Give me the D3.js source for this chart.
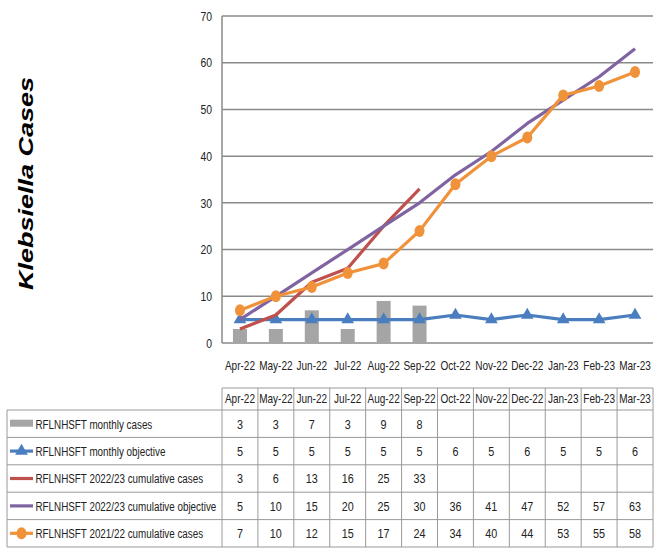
<!DOCTYPE html>
<html><head><meta charset="utf-8">
<script src="https://cdn.jsdelivr.net/npm/d3@7"></script>
<style>body{margin:0;background:#fff}svg{display:block}</style>
</head><body>
<svg id="c" width="662" height="551"></svg>
<script>
const months = ["Apr-22","May-22","Jun-22","Jul-22","Aug-22","Sep-22","Oct-22","Nov-22","Dec-22","Jan-23","Feb-23","Mar-23"];
const monthlyCases = [3,3,7,3,9,8,null,null,null,null,null,null];
const monthlyObjective = [5,5,5,5,5,5,6,5,6,5,5,6];
const cumCases2223 = [3,6,13,16,25,33,null,null,null,null,null,null];
const cumObjective2223 = [5,10,15,20,25,30,36,41,47,52,57,63];
const cumCases2122 = [7,10,12,15,17,24,34,40,44,53,55,58];
const yTicks = [0,10,20,30,40,50,60,70];
const seriesNames = ["RFLNHSFT monthly cases","RFLNHSFT monthly objective","RFLNHSFT 2022/23 cumulative cases","RFLNHSFT 2022/23 cumulative objective","RFLNHSFT 2021/22 cumulative cases"];
const yTitle = "Klebsiella Cases";

const font = "'Liberation Sans',Arial,sans-serif";
// horizontally condense text (reference uses a narrow face)
function narrow(k){
  return sel => sel.each(function(){
    const t = d3.select(this);
    const x0 = +t.attr("x") || 0;
    t.attr("x", x0/k).attr("transform", `scale(${k},1)`);
  });
}
const svg = d3.select("#c");
const x = d3.scaleBand().domain(months).range([222,653]);
const y = d3.scaleLinear().domain([0,70]).range([343,16]);

// gridlines
svg.append("g").selectAll("line").data(yTicks).join("line")
  .attr("x1",222).attr("x2",653).attr("y1",d=>y(d)).attr("y2",d=>y(d))
  .attr("stroke","#8a8a8a").attr("stroke-width",1.5);
svg.append("line").attr("x1",222).attr("x2",222).attr("y1",y(70)).attr("y2",y(0))
  .attr("stroke","#8a8a8a").attr("stroke-width",1.5);

// y axis labels
const ya = svg.append("g").attr("transform","translate(222,0)")
  .call(d3.axisLeft(y).tickValues(yTicks).tickSize(0).tickPadding(10));
ya.select(".domain").remove();
ya.selectAll("text").attr("font-family",font).attr("font-size",13).attr("fill","#222").call(narrow(0.8));

// x axis labels
const xa = svg.append("g").attr("transform","translate(0,343)")
  .call(d3.axisBottom(x).tickSize(0).tickPadding(18));
xa.select(".domain").remove();
xa.selectAll("text").attr("font-family",font).attr("font-size",13).attr("fill","#222").call(narrow(0.77));

// title
svg.append("text").attr("transform","translate(33,183.5) rotate(-90)")
  .attr("text-anchor","middle").attr("font-family","'Liberation Sans',Arial,sans-serif")
  .attr("font-weight","bold").attr("font-style","italic").attr("font-size",21)
  .attr("textLength",213).attr("lengthAdjust","spacingAndGlyphs")
  .attr("fill","#000").text(yTitle);

const colors = ["#a5a5a5","#4a7ebf","#c0504d","#8064a2","#f0923a"];

// bars
const bw = 14;
svg.append("g").selectAll("rect").data(months.map((m,i)=>({m,v:monthlyCases[i]})).filter(d=>d.v!=null))
  .join("rect").attr("x",d=>x(d.m)+x.bandwidth()/2-bw/2).attr("width",bw)
  .attr("y",d=>y(d.v)).attr("height",d=>y(0)-y(d.v)).attr("fill",colors[0]);

const line = d3.line().defined(d=>d.v!=null).x(d=>x(d.m)+x.bandwidth()/2).y(d=>y(d.v));
function pts(arr){return months.map((m,i)=>({m,v:arr[i]}));}
const tri = d3.symbol().type(d3.symbolTriangle).size(70);

[[monthlyObjective,1],[cumCases2223,2],[cumObjective2223,3],[cumCases2122,4]].forEach(([arr,ci])=>{
  svg.append("path").datum(pts(arr)).attr("d",line).attr("fill","none")
    .attr("stroke",colors[ci]).attr("stroke-width",3.2).attr("stroke-linejoin","round");
  if(ci===1){
    svg.append("g").selectAll("path").data(pts(arr).filter(d=>d.v!=null)).join("path")
      .attr("d",tri).attr("transform",d=>`translate(${x(d.m)+x.bandwidth()/2},${y(d.v)})`)
      .attr("fill",colors[1]);
  }
  if(ci===4){
    svg.append("g").selectAll("ellipse").data(pts(arr).filter(d=>d.v!=null)).join("ellipse")
      .attr("cx",d=>x(d.m)+x.bandwidth()/2).attr("cy",d=>y(d.v)).attr("rx",5).attr("ry",6)
      .attr("fill",colors[4]);
  }
});

// data table
const tableTop = 388, headerBottom = 410, tableBottom = 547, tableLeft = 7;
const rowY = d3.scaleBand().domain(d3.range(5)).range([headerBottom,tableBottom]);
const tg = svg.append("g");
const gridColor = "#9a9a9a";
tg.append("line").attr("x1",222).attr("x2",653).attr("y1",tableTop).attr("y2",tableTop).attr("stroke",gridColor);
d3.range(6).forEach(i=>{
  const yy = headerBottom + i*rowY.bandwidth();
  tg.append("line").attr("x1",tableLeft).attr("x2",653).attr("y1",yy).attr("y2",yy).attr("stroke",gridColor);
});
tg.append("line").attr("x1",tableLeft).attr("x2",tableLeft).attr("y1",headerBottom).attr("y2",tableBottom).attr("stroke",gridColor);
months.forEach(m=>{
  tg.append("line").attr("x1",x(m)).attr("x2",x(m)).attr("y1",tableTop).attr("y2",tableBottom).attr("stroke",gridColor);
});
tg.append("line").attr("x1",653).attr("x2",653).attr("y1",tableTop).attr("y2",tableBottom).attr("stroke",gridColor);
tg.selectAll("text.h").data(months).join("text").attr("class","h")
  .attr("x",d=>x(d)+x.bandwidth()/2).attr("y",(tableTop+headerBottom)/2+4.5)
  .attr("text-anchor","middle").attr("font-family",font).attr("font-size",13).attr("fill","#222").text(d=>d).call(narrow(0.77));
const allSeries = [monthlyCases,monthlyObjective,cumCases2223,cumObjective2223,cumCases2122];
allSeries.forEach((arr,r)=>{
  const cy = rowY(r)+rowY.bandwidth()/2;
  tg.append("g").selectAll("text").data(pts(arr).filter(d=>d.v!=null)).join("text")
    .attr("x",d=>x(d.m)+x.bandwidth()/2).attr("y",cy+5)
    .attr("text-anchor","middle").attr("font-family",font).attr("font-size",13.5).attr("fill","#222").text(d=>d.v).call(narrow(0.8));
  if(r===0){
    tg.append("rect").attr("x",10).attr("y",cy-4).attr("width",23).attr("height",7).attr("fill",colors[0]);
  } else {
    tg.append("line").attr("x1",10).attr("x2",33).attr("y1",cy).attr("y2",cy).attr("stroke",colors[r]).attr("stroke-width",3.2);
    if(r===1) tg.append("path").attr("d",tri).attr("transform",`translate(21.5,${cy})`).attr("fill",colors[1]);
    if(r===4) tg.append("ellipse").attr("cx",21.5).attr("cy",cy).attr("rx",5).attr("ry",6).attr("fill",colors[4]);
  }
  tg.append("text").attr("x",35.5).attr("y",cy+5).attr("font-family",font).attr("font-size",13.5).attr("fill","#222").text(seriesNames[r]).call(narrow(0.73));
});
</script>
</body></html>
